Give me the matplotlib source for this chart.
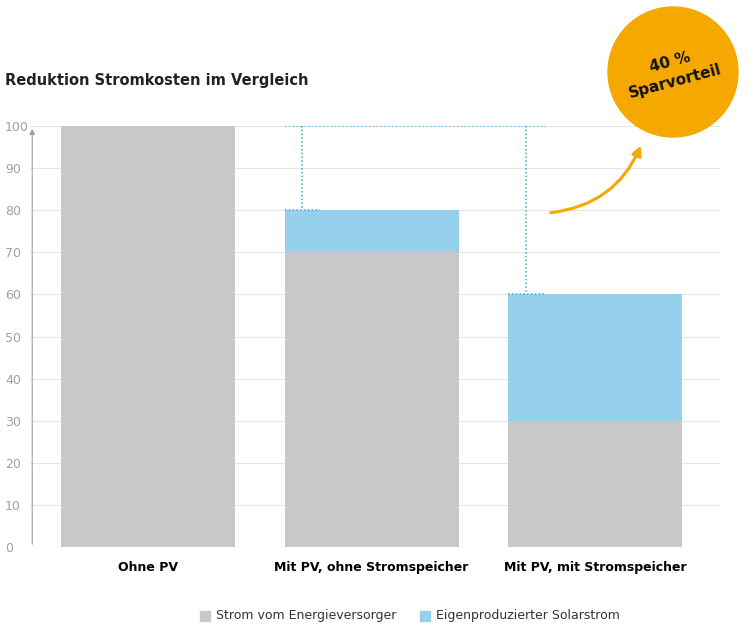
import matplotlib.pyplot as plt
from matplotlib.patches import Circle, FancyArrowPatch

categories = ["Ohne PV", "Mit PV, ohne Stromspeicher", "Mit PV, mit Stromspeicher"]
grid_power = [100, 70, 30]
solar_power = [0, 10, 30]
yticks = [0, 10, 20, 30, 40, 50, 60, 70, 80, 90, 100]

GRAY = "#c8c8c8"
BLUE = "#96d0ec"
ORANGE = "#f5a800"

fig = plt.figure(figsize=(7.5, 6.28), dpi=100)
# y=0 at pixel 547, y=100 at 126
ax = fig.add_axes([30 / 750, 1 - 547 / 628, 690 / 750, 421 / 628])
x = list(range(len(categories)))
w = 0.78
ax.bar(x, grid_power, width=w, color=GRAY, zorder=2)
ax.bar(x, solar_power, width=w, bottom=grid_power, color=BLUE, zorder=2)
ax.set_xlim(-0.53, 2.56)
ax.set_ylim(0, 100)
ax.set_yticks(yticks)
ax.yaxis.grid(True, color="#e6e6e6", linewidth=0.8, zorder=0)
ax.tick_params(axis="y", length=0, labelsize=9, labelcolor="#a0a0a0", pad=18)
for lab in ax.get_yticklabels():
    lab.set_horizontalalignment("left")
ax.set_xticks(x)
ax.set_xticklabels(categories, fontsize=9, fontweight="bold")
ax.tick_params(axis="x", length=0, pad=10)
for s in ax.spines.values():
    s.set_visible(False)
ax.annotate("", xy=(-0.52, 100), xytext=(-0.52, 0),
            arrowprops=dict(arrowstyle="-|>", color="#a0a0a0", lw=0.8, mutation_scale=8),
            annotation_clip=False)

# dotted comparison lines
dot = dict(color="#3aa8dc", linestyle=(0, (1, 1.5)), linewidth=1.1, zorder=3)
ax.plot([1 - w / 2, 2 - 0.22], [100, 100], **dot)
ax.plot([1 - 0.31, 1 - 0.31], [100, 80], **dot)
ax.plot([1 - w / 2, 1 - 0.23], [80, 80], **dot)
ax.plot([2 - 0.31, 2 - 0.31], [100, 60], **dot)
ax.plot([2 - w / 2, 2 - 0.23], [60, 60], **dot)

fig.text(5 / 750, 1 - 80 / 628, "Reduktion Stromkosten im Vergleich",
         fontsize=10.5, fontweight="bold", va="center", color="#222222")

# orange badge
circ = Circle((6.73, 6.28 - 0.72), 0.65, transform=fig.dpi_scale_trans,
              color=ORANGE, zorder=5)
fig.patches.append(circ)
fig.text(673 / 750, 1 - 72 / 628, "40 %\nSparvorteil", ha="center", va="center",
         fontsize=11, fontweight="bold", rotation=15, linespacing=1.4, zorder=6,
         color="#111111")
arr = FancyArrowPatch((548 / 750, 1 - 213 / 628), (642 / 750, 1 - 143 / 628),
                      transform=fig.transFigure, connectionstyle="arc3,rad=0.3",
                      arrowstyle="-|>", mutation_scale=14, color=ORANGE, lw=2.2)
fig.patches.append(arr)

# legend
for px, col, txt in [(200, GRAY, "Strom vom Energieversorger"),
                     (420, BLUE, "Eigenproduzierter Solarstrom")]:
    fig.patches.append(plt.Rectangle((px / 750, 1 - 621 / 628), 10 / 750, 10 / 628,
                                     transform=fig.transFigure, color=col))
    fig.text((px + 16) / 750, 1 - 615 / 628, txt, fontsize=9, va="center", color="#333333")

fig.savefig("out.png", dpi=100)
